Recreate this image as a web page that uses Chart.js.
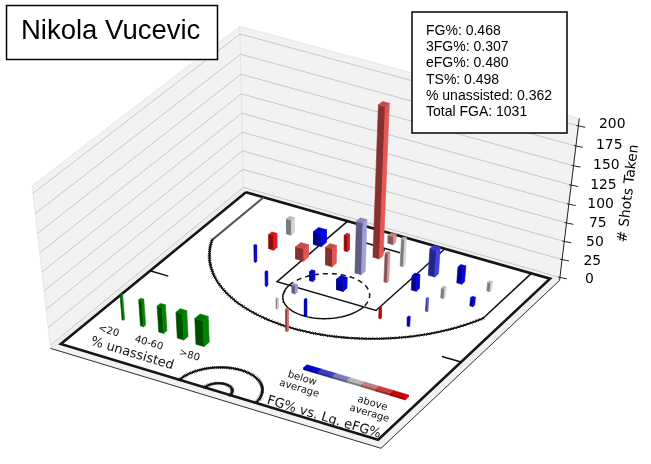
<!DOCTYPE html>
<html>
<head>
<meta charset="utf-8">
<script src="https://cdn.jsdelivr.net/npm/chart.js@4.4.1/dist/chart.umd.min.js"></script>
<style>
  html, body { margin: 0; padding: 0; background: #ffffff; }
  #wrap { width: 651px; height: 464px; }
</style>
</head>
<body>
<div id="wrap"><canvas id="chart" width="651" height="464"></canvas></div>
<script>
const W = 651;
const H = 464;

const PLAYER_NAME = "Nikola Vucevic";
const statLines = [
    "FG%: 0.468",
    "3FG%: 0.307",
    "eFG%: 0.480",
    "TS%: 0.498",
    "% unassisted: 0.362",
    "Total FGA: 1031",
];

// shot zones in court units (1/10 ft), hoop at (0, 0), baseline at y = -47.5
const shotX = [-133, -133, -82, -83, -39, -39, 8, 8, 6, 53, 51, 101, 99, 145, 144, 191, 190, 142, 140, 95, 3, 1, -42, -43, -87, -135, 9, -39];
const shotY = [21, 68, 25, 71, 66, 23, 65, 16, -26, 69, 21, 21, 68, 21, 68, 21, 67, 110, 156, 157, 202, 247, 203, 156, 159, 111, 116, 116];
const shotCount = [21, 20, 18, 17, 25, 22, 71, 200, 11, 40, 38, 37, 20, 22, 14, 12, 11, 18, 13, 15, 24, 31, 14, 11, 20, 23, 15, 13];
// FG% vs league eFG%: -1 well below .. +1 well above
const shotVsLeague = [0, 0.9, -1, 0.6, 0.6, 0.9, -0.25, 0.6, 0.3, 0.3, 0, -0.7, -1, -1, 0, 0, -1, -0.55, -1, 1, -1, 0.5, 0, -0.25, -1, -1, -1, -1];
// % unassisted bucket: 0 = <20 ... 4 = >80
const shotUnassisted = [2, 2, 4, 4, 3, 1, 3, 3, 2, 1, 1, 3, 2, 2, 1, 1, 1, 0, 0, 0, 0, 0, 0, 1, 0, 0, 3, 1];

const zTicks = [0, 25, 50, 75, 100, 125, 150, 175, 200];
const unassistedBuckets = [0, 1, 2, 3, 4];
const unassistedLabels = ["<20", "40-60", ">80"];
const vsLeagueSteps = [-1, -2 / 3, -1 / 3, 0, 1 / 3, 2 / 3, 1];

// axes box
const X_MIN = -250, X_MAX = 250, Y_MIN = -47.5, Y_MAX = 422.5, Z_MAX = 205;
const XL = X_MIN - (X_MAX - X_MIN) / 48;
const XR = X_MAX + (X_MAX - X_MIN) / 48;
const YB = Y_MIN - (Y_MAX - Y_MIN) / 48;
const YF = Y_MAX + (Y_MAX - Y_MIN) / 48;
const ZLO = -Z_MAX / 48;
const ZHI = Z_MAX + Z_MAX / 48;

const BAR_SIZES = [2.5, 5, 8, 10.5, 13];
const LEGEND_BAR_HEIGHT = 36;

// camera: where the corners of the axes box land in the 651x464 frame
const calib = [
    [X_MIN, Y_MIN, 0, 243, 193],
    [X_MAX, Y_MIN, 0, 552, 279],
    [X_MAX, Y_MAX, 0, 377, 445],
    [X_MIN, Y_MAX, 0, 58, 347],
    [-80, 142.5, 0, 277, 282],
    [80, 142.5, 0, 378, 312],
    [-220, 202.5, 0, 167, 277],
    [220, 202.5, 0, 443, 359],
    [XR, YB, 0, 564.5, 279],
    [XR, YB, 100, 573.5, 202],
    [XR, YB, 200, 582, 125],
    [XL, YB, 0, 242.5, 187],
    [XL, YB, 100, 240.5, 109],
    [XL, YB, 200, 238.5, 30],
    [XL, YF, ZLO, 45, 350],
    [XR, YF, ZLO, 383, 453],
];

function solveCamera(pairs) {
    const rows = [];
    const rhs = [];
    for (const [x0, y0, z0, u0, v0] of pairs) {
        const x = x0 / 250, y = (y0 - 187.5) / 250, z = z0 / 100;
        const u = (u0 - 325) / 300, v = (v0 - 232) / 300;
        rows.push([x, y, z, 1, 0, 0, 0, 0, -u * x, -u * y, -u * z]);
        rhs.push(u);
        rows.push([0, 0, 0, 0, x, y, z, 1, -v * x, -v * y, -v * z]);
        rhs.push(v);
    }
    const n = 11;
    const m = Array.from({ length: n }, () => new Array(n + 1).fill(0));
    rows.forEach((r, k) => {
        for (let i = 0; i < n; i++) {
            for (let j = 0; j < n; j++) m[i][j] += r[i] * r[j];
            m[i][n] += r[i] * rhs[k];
        }
    });
    for (let c = 0; c < n; c++) {
        let piv = c;
        for (let r = c + 1; r < n; r++) if (Math.abs(m[r][c]) > Math.abs(m[piv][c])) piv = r;
        [m[c], m[piv]] = [m[piv], m[c]];
        for (let r = 0; r < n; r++) {
            if (r === c) continue;
            const f = m[r][c] / m[c][c];
            for (let k = c; k <= n; k++) m[r][k] -= f * m[c][k];
        }
    }
    return m.map((row, i) => row[n] / row[i]);
}

const cam = solveCamera(calib);

function project(x0, y0, z0) {
    const x = x0 / 250, y = (y0 - 187.5) / 250, z = z0 / 100;
    const w = cam[8] * x + cam[9] * y + cam[10] * z + 1;
    const u = (cam[0] * x + cam[1] * y + cam[2] * z + cam[3]) / w;
    const v = (cam[4] * x + cam[5] * y + cam[6] * z + cam[7]) / w;
    return { x: u * 300 + 325, y: v * 300 + 232, w };
}

const farSign = project(XL, YB, 0).w > project(XR, YF, 0).w ? 1 : -1;

// colours
function vsLeagueColor(t) {
    const g = 0.88;
    if (t < 0) {
        const a = t + 1;
        return [g * a, g * a, 1 + (g - 1) * a];
    }
    return [g + (1 - g) * t, g * (1 - t), g * (1 - t)];
}
const GREEN = [0, 0.55, 0];

function rgb(c, f) {
    const k = (v) => Math.max(0, Math.min(255, Math.round(v * f * 255)));
    return `rgb(${k(c[0])}, ${k(c[1])}, ${k(c[2])})`;
}

// layers, in painting order
const datasets = [];

function toPixels(list) {
    return list.map(([x, y, z]) => {
        const q = project(x, y, z);
        return { x: q.x, y: q.y };
    });
}

function polygon(list, fillColor, lineColor, width) {
    datasets.push({
        data: toPixels(list.concat([list[0]])),
        showLine: true,
        fill: "shape",
        backgroundColor: fillColor,
        borderColor: lineColor || fillColor,
        borderWidth: width ?? 0.6,
        pointRadius: 0,
        tension: 0,
    });
}

function polyline(list, color, width, extra) {
    datasets.push(Object.assign({
        data: toPixels(list),
        showLine: true,
        fill: false,
        borderColor: color,
        borderWidth: width,
        pointRadius: 0,
        tension: 0,
    }, extra || {}));
}

function arc(cx, cy, r, a0, a1, step) {
    const out = [];
    const n = Math.max(2, Math.round(Math.abs(a1 - a0) / step));
    for (let i = 0; i <= n; i++) {
        const a = (a0 + (a1 - a0) * i / n) * Math.PI / 180;
        out.push([cx + r * Math.cos(a), cy + r * Math.sin(a), 0]);
    }
    return out;
}

const fuzzy = {
    pointRadius: 1.8,
    pointStyle: "crossRot",
    pointBorderColor: "#111111",
    pointBorderWidth: 0.9,
};

// panes
const PANE = "#f2f2f2";
const PANE_EDGE = "#e2e2e2";
polygon([[XL, YB, ZLO], [XL, YF, ZLO], [XL, YF, ZHI], [XL, YB, ZHI]], PANE, PANE_EDGE, 0.8);
polygon([[XL, YB, ZLO], [XR, YB, ZLO], [XR, YB, ZHI], [XL, YB, ZHI]], PANE, PANE_EDGE, 0.8);
polygon([[XL, YB, ZLO], [XR, YB, ZLO], [XR, YF, ZLO], [XL, YF, ZLO]], PANE, PANE_EDGE, 0.8);

zTicks.forEach((z) => {
    polyline([[XL, YF, z], [XL, YB, z], [XR, YB, z]], "#bcbcbc", 0.8);
});

// axis lines along the front edges and the z axis
polyline([[XL, YF, ZLO], [XR, YF, ZLO], [XR, YB, ZLO]], "#333333", 1);
polyline([[XR, YB, ZLO], [XR, YB, ZHI]], "#222222", 1);
zTicks.forEach((z) => {
    const q = project(XR, YB, z);
    datasets.push({
        data: [{ x: q.x - 2, y: q.y - 0.4 }, { x: q.x + 7, y: q.y + 1.4 }],
        showLine: true, fill: false, borderColor: "#222222", borderWidth: 1, pointRadius: 0,
    });
});

// court
polygon([[X_MIN, Y_MIN, 0], [X_MAX, Y_MIN, 0], [X_MAX, Y_MAX, 0], [X_MIN, Y_MAX, 0]], "#ffffff", "#151515", 2.6);
polyline([[-80, Y_MIN, 0], [-80, 142.5, 0], [80, 142.5, 0], [80, Y_MIN, 0]], "#111111", 1.5);
polyline(arc(0, 142.5, 60, 0, 180, 3), "#111111", 1.5);
polyline(arc(0, 142.5, 60, 180, 360, 3), "#111111", 1.5, { borderDash: [5, 4] });
polyline(arc(0, 0, 7.5, 0, 360, 15), "#111111", 1.3);
polyline([[-30, -7.5, 0], [30, -7.5, 0]], "#111111", 1.5);
polyline([[-220, Y_MIN, 0], [-220, 89.4, 0]], "#555555", 2);
polyline([[220, Y_MIN, 0], [220, 89.4, 0]], "#111111", 1.6);
polyline(arc(0, 0, 237.5, 157.9, 22.1, 1.2), "#111111", 1.6, fuzzy);
polyline(arc(0, Y_MAX, 60, 180, 360, 2.5), "#111111", 1.6, fuzzy);
polyline(arc(0, Y_MAX, 20, 180, 360, 6), "#111111", 1.6, fuzzy);
polyline([[X_MIN, 202.5, 0], [-220, 202.5, 0]], "#111111", 1.5);
polyline([[X_MAX, 202.5, 0], [220, 202.5, 0]], "#111111", 1.5);

// bars: shot zones + the two floor legends
const bars = shotX.map((x, i) => ({
    x0: x - BAR_SIZES[shotUnassisted[i]] / 2,
    x1: x + BAR_SIZES[shotUnassisted[i]] / 2,
    y0: shotY[i] - BAR_SIZES[shotUnassisted[i]] / 2,
    y1: shotY[i] + BAR_SIZES[shotUnassisted[i]] / 2,
    h: shotCount[i],
    color: vsLeagueColor(shotVsLeague[i]),
}));

const LEGEND_BAR_X0 = -211, LEGEND_BAR_STEP = 32, LEGEND_BAR_Y = 329;
unassistedBuckets.forEach((b, i) => {
    const cx = LEGEND_BAR_X0 + i * LEGEND_BAR_STEP;
    const s = BAR_SIZES[b];
    bars.push({ x0: cx - s / 2, x1: cx + s / 2, y0: LEGEND_BAR_Y - s / 2, y1: LEGEND_BAR_Y + s / 2, h: LEGEND_BAR_HEIGHT, color: GREEN });
});

const STRIP_X0 = 73, STRIP_STEP = 22.7, STRIP_Y = 317;
vsLeagueSteps.forEach((t, i) => {
    const x0 = STRIP_X0 + i * STRIP_STEP;
    bars.push({ x0, x1: x0 + STRIP_STEP, y0: STRIP_Y - 4, y1: STRIP_Y + 4, h: 3, color: vsLeagueColor(t) });
});

bars.forEach((b) => {
    b.depth = farSign * project((b.x0 + b.x1) / 2, (b.y0 + b.y1) / 2, 0).w;
});
bars.sort((a, b) => b.depth - a.depth);

bars.forEach(({ x0, x1, y0, y1, h, color }) => {
    polygon([[x0, y1, 0], [x1, y1, 0], [x1, y1, h], [x0, y1, h]], rgb(color, 0.55));
    polygon([[x1, y0, 0], [x1, y1, 0], [x1, y1, h], [x1, y0, h]], rgb(color, 0.95));
    polygon([[x0, y0, h], [x1, y0, h], [x1, y1, h], [x0, y1, h]], rgb(color, 0.82));
});

datasets.forEach((ds, i) => {
    ds.order = datasets.length - i;
});

// texts
const SANS = '"Liberation Sans", Arial, sans-serif';
const DEJAVU = '"DejaVu Sans", sans-serif';

function floorText(ctx, lines, x, y, size) {
    const p = project(x, y, 0);
    const q = project(x + 20, y, 0);
    const ang = Math.atan2(q.y - p.y, q.x - p.x);
    ctx.save();
    ctx.translate(p.x, p.y);
    ctx.rotate(ang);
    ctx.font = `${size}px ${DEJAVU}`;
    ctx.fillStyle = "#111111";
    ctx.textAlign = "center";
    ctx.textBaseline = "middle";
    lines.forEach((s, i) => {
        ctx.fillText(s, 0, (i - (lines.length - 1) / 2) * size * 1.05);
    });
    ctx.restore();
}

const annotations = {
    id: "annotations",
    afterDraw(chart) {
        const ctx = chart.ctx;
        ctx.save();

        ctx.fillStyle = "#000000";
        ctx.font = `13.9px ${DEJAVU}`;
        ctx.textAlign = "center";
        ctx.textBaseline = "middle";
        zTicks.forEach((z) => {
            const q = project(XR, YB, z);
            ctx.fillText(String(z), q.x + 26 + 4 * z / 200, q.y + 1);
        });

        const a = project(XR, YB, 0);
        const b = project(XR, YB, 200);
        const mid = project(XR, YB, 100);
        ctx.save();
        ctx.translate(mid.x + 56, mid.y - 10);
        ctx.rotate(Math.atan2(b.y - a.y, b.x - a.x));
        ctx.fillText("# Shots Taken", 0, 0);
        ctx.restore();

        floorText(ctx, [unassistedLabels[0]], -211, 357, 10);
        floorText(ctx, [unassistedLabels[1]], -147, 357, 10);
        floorText(ctx, [unassistedLabels[2]], -83, 357, 10);
        floorText(ctx, ["% unassisted"], -152, 390, 13);
        floorText(ctx, ["below", "average"], 84, 346, 10);
        floorText(ctx, ["above", "average"], 197, 354, 10);
        floorText(ctx, ["FG% vs. Lg. eFG%"], 154, 402, 13);

        ctx.fillStyle = "#ffffff";
        ctx.strokeStyle = "#000000";
        ctx.lineWidth = 1.5;
        ctx.fillRect(6.5, 5.5, 211, 54);
        ctx.strokeRect(6.5, 5.5, 211, 54);
        ctx.fillStyle = "#000000";
        ctx.font = `27.5px ${SANS}`;
        ctx.textAlign = "left";
        ctx.textBaseline = "alphabetic";
        ctx.fillText(PLAYER_NAME, 21, 38.5);

        ctx.fillStyle = "#ffffff";
        ctx.fillRect(412, 12, 155, 121);
        ctx.strokeRect(412, 12, 155, 121);
        ctx.fillStyle = "#000000";
        ctx.font = `14px ${SANS}`;
        statLines.forEach((s, i) => {
            ctx.fillText(s, 426, 35 + i * 16.2);
        });

        ctx.restore();
    },
};

new Chart(document.getElementById("chart"), {
    type: "scatter",
    data: { datasets },
    options: {
        responsive: false,
        animation: false,
        events: [],
        layout: { padding: 0 },
        plugins: {
            legend: { display: false },
            tooltip: { enabled: false },
        },
        scales: {
            x: { type: "linear", min: 0, max: W, display: false },
            y: { type: "linear", min: 0, max: H, reverse: true, display: false },
        },
    },
    plugins: [annotations],
});
</script>
</body>
</html>
